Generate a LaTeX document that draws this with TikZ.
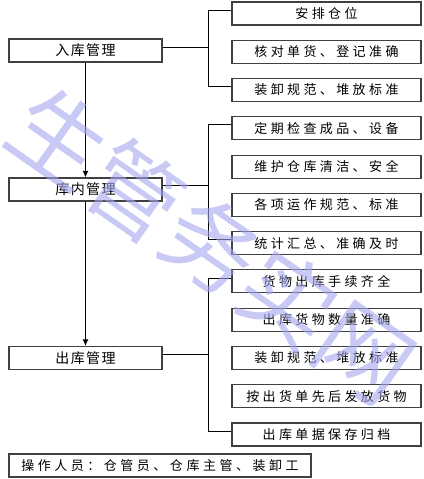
\documentclass[tikz,border=0pt]{standalone}
\usepackage{fontspec}
\newfontfamily\cjk{Noto Sans CJK SC}
\newfontfamily\cjkfase[LetterSpace=10]{Noto Sans CJK SC}
\newfontfamily\cjkvoce[LetterSpace=26]{Noto Sans CJK SC}
\newfontfamily\cjknota[LetterSpace=27]{Noto Sans CJK SC}
\usetikzlibrary{arrows.meta}
\definecolor{wmark}{RGB}{165,165,240}
\tikzset{
  fase/.style      = {rectangle, draw=black!75, line width=0.8pt, fill=white, minimum width=114.75pt, minimum height=17.25pt, inner sep=0, font=\cjkfase\fontsize{10.5pt}{12pt}\selectfont},
  voce/.style      = {fase, minimum width=141.75pt, font=\cjkvoce\fontsize{9.75pt}{12pt}\selectfont},
  nota/.style      = {fase, minimum width=226.5pt, font=\cjknota\fontsize{9.75pt}{12pt}\selectfont},
  link/.style      = {line width=0.75pt},
  freccia/.style   = {link, -{Latex[length=5pt,width=4.5pt]}},
  filigrana/.style = {text=wmark, text opacity=0.6, rotate=-35, inner sep=0, font=\cjk\fontsize{70pt}{74pt}\selectfont}
}

\begin{document}
\begin{tikzpicture}[x=0.75pt, y=-0.75pt]
  \useasboundingbox (0,0) rectangle (424,479);
  % fasi a sinistra, voci a destra
  \node[fase] (in)     at (85.5, 50.5) {入库管理};
  \node[fase] (dentro) at (85.5,189.5) {库内管理};
  \node[fase] (out)    at (85.5,358)   {出库管理};
  \node[nota] (op)     at (160,465.5)  {操作人员：仓管员、仓库主管、装卸工};
  \foreach \t [count=\i] in {安排仓位, 核对单货、登记准确, 装卸规范、堆放标准, 定期检查成品、设备, 维护仓库清洁、安全, 各项运作规范、标准, 统计汇总、准确及时, 货物出库手续齐全, 出库货物数量准确, 装卸规范、堆放标准, 按出货单先后发放货物, 出库单据保存归档}
    \node[voce] (v\i) at (326.5, {13.5+38.27*(\i-1)}) {\t};
  \coordinate (k) at ([xshift=-17.25pt]v1.west);
  \draw[link] ([yshift=2pt]in.east) -- ([yshift=2pt]in.east -| k);
  \draw[link] ([yshift=2.5pt]v1.west) -- ([yshift=2.5pt]k |- v1.west) -- ([yshift=2.5pt]k |- v3.west) -- ([yshift=2.5pt]v3.west);
  \draw[link] ([yshift=3pt]dentro.east) -- ([yshift=3pt]dentro.east -| k);
  \draw[link] ([yshift=2.5pt]v4.west) -- ([yshift=2.5pt]k |- v4.west) -- ([yshift=2.5pt]k |- v7.west) -- ([yshift=2.5pt]v7.west);
  \draw[link] ([yshift=3pt]out.east) -- ([yshift=3pt]out.east -| k);
  \draw[link] ([yshift=2.5pt]v8.west) -- ([yshift=2.5pt]k |- v8.west) -- ([yshift=2.5pt]k |- v12.west) -- ([yshift=2.5pt]v12.west);
  \draw[freccia] (in.south) -- (dentro.north);
  \draw[freccia] (dentro.south) -- (out.north);
  \node[filigrana] (wm) at (212,245) {生管务实网};
\end{tikzpicture}
\end{document}
